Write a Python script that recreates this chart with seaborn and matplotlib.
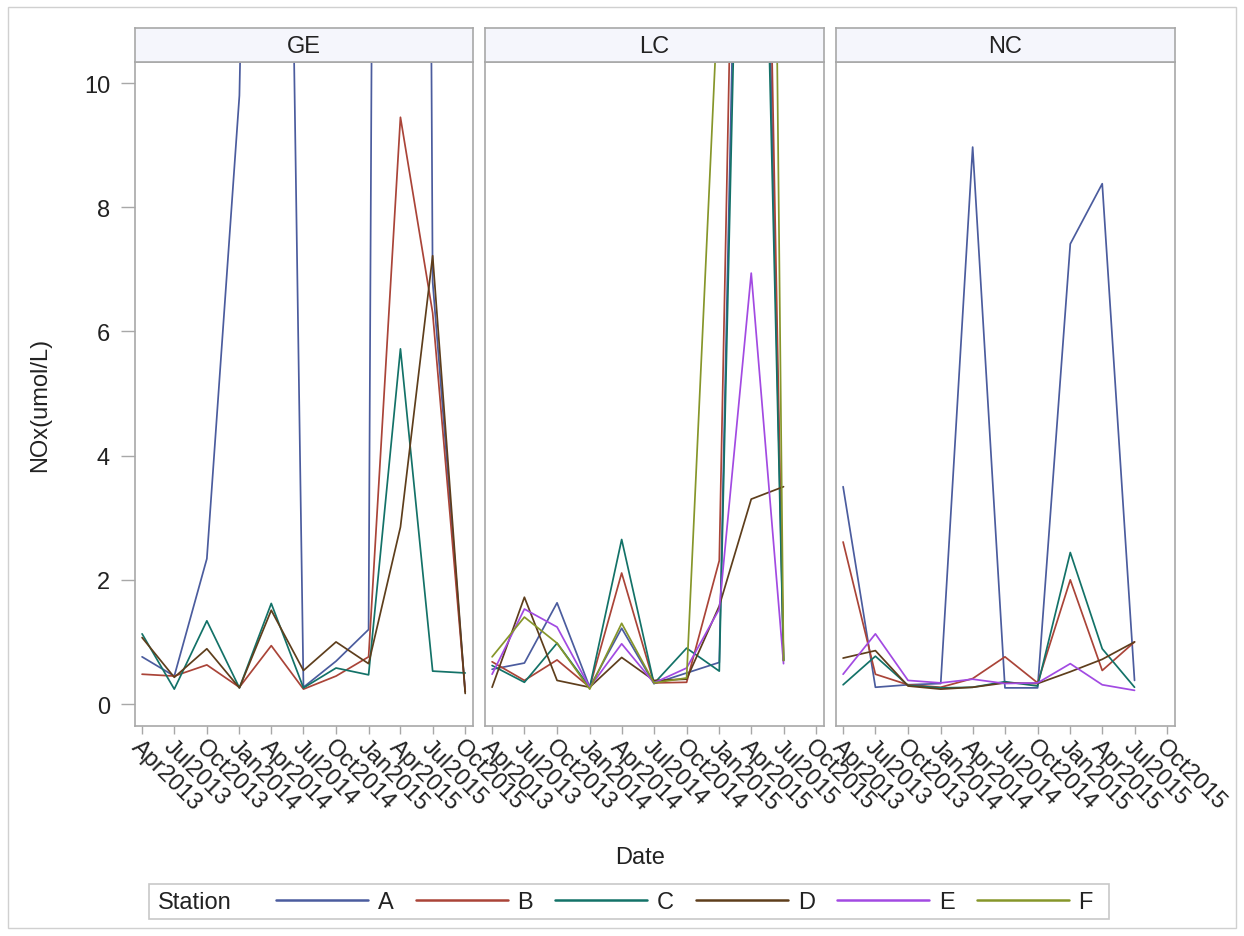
import numpy as np
import pandas as pd
import matplotlib
matplotlib.use("Agg")
import matplotlib.pyplot as plt
import matplotlib.dates as mdates
from matplotlib.lines import Line2D
from matplotlib.patches import Rectangle
import seaborn as sns

# ---------------- data ----------------
dates = ["2013-04-01", "2013-07-01", "2013-10-01", "2014-01-01", "2014-04-01", "2014-07-01",
         "2014-10-01", "2015-01-01", "2015-04-01", "2015-07-01", "2015-10-01"]
sites = ["GE", "LC", "NC"]
stations = ["A", "B", "C", "D", "E", "F"]
nan = np.nan

GE_A = [0.76, 0.45, 2.34, 9.8, 35, 0.27, 0.69, 1.2, 100, 6.8, 0.2]
GE_B = [0.48, 0.45, 0.63, 0.27, 0.94, 0.24, 0.45, 0.76, 9.45, 6.3, 0.2]
GE_C = [1.13, 0.24, 1.34, 0.26, 1.62, 0.26, 0.58, 0.47, 5.72, 0.53, 0.5]
GE_D = [1.07, 0.43, 0.89, 0.26, 1.51, 0.54, 1.0, 0.65, 2.85, 7.22, 0.17]

LC_A = [0.56, 0.66, 1.63, 0.27, 1.22, 0.33, 0.5, 0.67, 25, 0.7, nan]
LC_B = [0.68, 0.38, 0.71, 0.27, 2.11, 0.34, 0.35, 2.31, 28, 0.7, nan]
LC_C = [0.62, 0.35, 0.98, 0.27, 2.65, 0.33, 0.9, 0.53, 23, 0.7, nan]
LC_D = [0.27, 1.72, 0.38, 0.27, 0.75, 0.38, 0.4, 1.58, 3.3, 3.5, nan]
LC_E = [0.48, 1.53, 1.24, 0.27, 0.97, 0.34, 0.58, 1.53, 6.94, 0.65, nan]
LC_F = [0.76, 1.4, 0.98, 0.24, 1.3, 0.34, 0.42, 11.8, 50, 0.7, nan]

NC_A = [3.5, 0.27, 0.31, 0.33, 8.97, 0.26, 0.26, 7.41, 8.38, 0.38, nan]
NC_B = [2.61, 0.48, 0.31, 0.27, 0.41, 0.76, 0.34, 2.0, 0.54, 1.0, nan]
NC_C = [0.31, 0.77, 0.3, 0.26, 0.27, 0.36, 0.29, 2.44, 0.89, 0.27, nan]
NC_D = [0.74, 0.86, 0.29, 0.24, 0.27, 0.34, 0.33, 0.52, 0.72, 1.0, nan]
NC_E = [0.48, 1.13, 0.38, 0.34, 0.4, 0.33, 0.34, 0.65, 0.31, 0.22, nan]

series = {
    "GE": {"A": GE_A, "B": GE_B, "C": GE_C, "D": GE_D},
    "LC": {"A": LC_A, "B": LC_B, "C": LC_C, "D": LC_D, "E": LC_E, "F": LC_F},
    "NC": {"A": NC_A, "B": NC_B, "C": NC_C, "D": NC_D, "E": NC_E},
}

rows = []
for site, d in series.items():
    for st, vals in d.items():
        for dt, v in zip(dates, vals):
            rows.append({"Site": site, "Station": st, "Date": pd.Timestamp(dt), "NOx": v})
df = pd.DataFrame(rows).dropna()

colors = ["#4B5C9E", "#AA4438", "#137268", "#5E3E1C", "#A24AE2", "#86962A"]
palette = dict(zip(stations, colors))

# ---------------- figure ----------------
sns.set_theme(style="white")
plt.rcParams["font.family"] = ["Liberation Sans", "DejaVu Sans"]

W, H = 1244, 937
fig = plt.figure(figsize=(W / 100, H / 100), dpi=100)
fig.patch.set_facecolor("white")

def fx(px):
    return px / W

def fy(py):
    return 1 - py / H

fig.patches.append(Rectangle((fx(8), fy(929)), fx(1236) - fx(8), fy(8) - fy(929),
                             transform=fig.transFigure, fill=False,
                             edgecolor="#D0D0D0", lw=1.0))

panel_x = [(135, 473), (485, 824), (836, 1175)]
ax_top, ax_bot = 63, 727
strip_top = 29

tick_dates = pd.to_datetime(dates)
xmin = pd.Timestamp(dates[0]) - pd.Timedelta(days=20)
xmax = pd.Timestamp(dates[-1]) + pd.Timedelta(days=22)
spine_c = "#A8A8A8"
fs = 17
txt_c = "#222222"

for i, (site, (x0, x1)) in enumerate(zip(sites, panel_x)):
    ax = fig.add_axes([fx(x0), fy(ax_bot), fx(x1) - fx(x0), fy(ax_top) - fy(ax_bot)])
    sub = df[df["Site"] == site]
    order = [s for s in stations if s in series[site]]
    sns.lineplot(data=sub, x="Date", y="NOx", hue="Station", hue_order=order,
                 palette=palette, estimator=None, legend=False, ax=ax, lw=1.25)
    ax.set_xlim(xmin, xmax)
    ax.set_ylim(-0.354, 10.34)
    ax.set_xticks(mdates.date2num(tick_dates))
    ax.xaxis.set_major_formatter(mdates.DateFormatter("%b%Y"))
    ax.set_yticks([0, 2, 4, 6, 8, 10])
    ax.set_xlabel("")
    ax.set_ylabel("")
    for sp in ax.spines.values():
        sp.set_color(spine_c)
        sp.set_linewidth(1.2)
    ax.tick_params(axis="x", direction="out", length=6, width=1.0, color=spine_c,
                   labelsize=fs, labelcolor=txt_c, bottom=True, pad=0.5)
    for lab in ax.get_xticklabels():
        lab.set_rotation(-45)
        lab.set_ha("left")
        lab.set_va("top")
        lab.set_rotation_mode("anchor")
    if i == 0:
        ax.tick_params(axis="y", direction="out", length=10, width=1.0, color=spine_c,
                       labelsize=fs, labelcolor=txt_c, left=True, pad=8)
    else:
        ax.tick_params(axis="y", left=False, labelleft=False)
    ax.grid(False)

    # strip header
    sax = fig.add_axes([fx(x0), fy(ax_top), fx(x1) - fx(x0), fy(strip_top) - fy(ax_top)])
    sax.set_facecolor("#F5F6FC")
    sax.set_xticks([])
    sax.set_yticks([])
    for sp in sax.spines.values():
        sp.set_color(spine_c)
        sp.set_linewidth(1.2)
    sax.text(0.5, 0.48, site, ha="center", va="center", fontsize=fs, color=txt_c,
             transform=sax.transAxes)

fig.text(fx(40), fy(405), "NOx(umol/L)", rotation=90, ha="center", va="center",
         fontsize=fs, color=txt_c)
fig.text(fx(640), fy(858), "Date", ha="center", va="center", fontsize=fs, color=txt_c)

# legend
fig.patches.append(Rectangle((fx(149), fy(920)), fx(1109) - fx(149), fy(885) - fy(920),
                             transform=fig.transFigure, fill=False,
                             edgecolor="#C8C8C8", lw=1.2))
fig.text(fx(158), fy(903), "Station", ha="left", va="center", fontsize=fs, color=txt_c)
handles = [Line2D([0], [0], color=palette[s], lw=1.8) for s in stations]
fig.legend(handles, stations, loc="center left", bbox_to_anchor=(fx(276), fy(903)),
           ncol=6, frameon=False, fontsize=fs, handlelength=3.9, handletextpad=0.4,
           columnspacing=0.95, borderpad=0, borderaxespad=0, labelcolor=txt_c)

fig.savefig("out.png", dpi=100, facecolor="white")
